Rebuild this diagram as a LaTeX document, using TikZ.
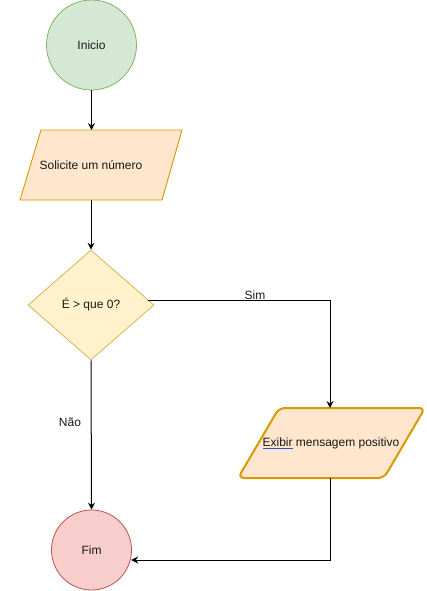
\documentclass[tikz,border=0pt]{standalone}
\usepackage{fontspec}
\setmainfont{Liberation Sans}
\usetikzlibrary{arrows.meta,shapes.geometric}
\definecolor{startfill}{HTML}{D5E8D4}
\definecolor{startline}{HTML}{82B366}
\definecolor{iofill}{HTML}{FFE6CC}
\definecolor{ioline}{HTML}{D79B00}
\definecolor{decfill}{HTML}{FFF2CC}
\definecolor{decline}{HTML}{D6B656}
\definecolor{endfill}{HTML}{F8CECC}
\definecolor{endline}{HTML}{B85450}
\definecolor{spellblue}{HTML}{3050D0}
\tikzset{
  every node/.style={font=\fontsize{12}{14}\selectfont, text=black!90},
  txt/.style={inner sep=0pt, draw=none},
  conn/.style={draw=black, line width=1pt, -{Stealth[length=7pt,width=7pt,inset=2.5pt]}},
  lbl/.style={font=\fontsize{12}{14}\selectfont, inner sep=1pt},
}
\begin{document}
\begin{tikzpicture}[x=1pt,y=-1pt]
\useasboundingbox (0,0) rectangle (426,591);
% Inicio
\node[circle, minimum size=90pt, inner sep=0pt, fill=startfill, draw=startline, line width=0.8pt] (ini) at (91.5,45) {Inicio};
% Solicite (parallelogram)
\draw[fill=iofill, draw=ioline, line width=0.9pt] (41,130) -- (182,130) -- (162,200) -- (20,200) -- cycle;
\node[txt, minimum width=120pt, minimum height=70pt] (sol) at (91,165) {Solicite um número};
% Decision
\node[diamond, aspect=1.15, minimum width=126pt, minimum height=110pt, inner sep=0pt, fill=decfill, draw=decline, line width=0.8pt] (dec) at (91,305) {É > que 0?};
% Exibir (rounded parallelogram)
\draw[fill=iofill, draw=ioline, line width=2pt, rounded corners=6pt] (279,408) -- (425,408) -- (384,478) -- (238,478) -- cycle;
\node[txt, minimum width=140pt, minimum height=70pt] (exi) at (331,443)
  {\setbox0\hbox{Exibir}\rlap{\color{spellblue}\rule[-2.6pt]{\wd0}{0.8pt}}\box0{} mensagem positivo};
% Fim
\node[circle, minimum size=80pt, inner sep=0pt, fill=endfill, draw=endline, line width=0.8pt] (fim) at (91.5,550) {Fim};
% connectors
\coordinate (decout) at (148.3,300);
\coordinate (simcorner) at (330,300);
\coordinate (exitop) at (330,408);
\coordinate (exibot) at (330,478);
\coordinate (fimcorner) at (330,560);
\coordinate (fimin) at (131.2,560);
\draw[conn] (ini.south) -- (91.5,130);
\draw[conn] (sol.south) -- (dec.north);
\draw[conn] (decout) -- (simcorner) -- (exitop);
\node[lbl] (sim) at (255,295) {Sim};
\draw[conn] (dec.south) -- (fim.north);
\node[lbl, fill=white] (nao) at (70,422) {Não};
\draw[conn] (exibot) -- (fimcorner) -- (fimin);
\end{tikzpicture}
\end{document}
